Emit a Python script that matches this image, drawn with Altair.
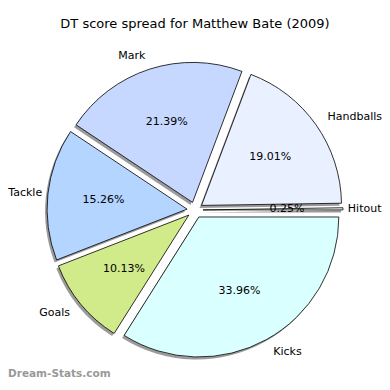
import altair as alt
import pandas as pd

# ---- data ----
labels = ["Hitout", "Handballs", "Mark", "Tackle", "Goals", "Kicks"]
values = [0.25, 19.01, 21.39, 15.26, 10.13, 33.96]
colors = ["#f4f4f4", "#e9f0ff", "#c6d8ff", "#b3d5ff", "#d1ea8a", "#daffff"]

df = pd.DataFrame({"idx": list(range(len(labels))), "label": labels, "value": values})

E = 0.057          # explode distance (in radius units)
R_PX = 140         # pie radius in pixels
W, H = 374, 346
CX_PX, CY_PX = 187, 174   # pie centre inside the view
X0, X1 = -CX_PX / R_PX, (W - CX_PX) / R_PX
Y0, Y1 = -(H - CY_PX) / R_PX, CY_PX / R_PX
FONT = "DejaVu Sans"
CHW = 5.7  # approx. label char width in px (for keeping labels inside)

base = alt.Chart(df).transform_window(
    cum="sum(value)", sort=[alt.SortField("idx")], frame=[None, 0]
).transform_joinaggregate(
    total="sum(value)"
).transform_calculate(
    a0="2*PI*(datum.cum - datum.value)/datum.total",
    a1="2*PI*datum.cum/datum.total",
).transform_calculate(
    mid="(datum.a0 + datum.a1)/2",
    th0="PI/2 - datum.a0",
    th1="PI/2 - datum.a1",
).transform_calculate(
    cx=f"{E}*cos(datum.mid)",
    cy=f"{E}*sin(datum.mid)",
    pcx=f"{E}*cos(datum.mid) + 0.6*cos(datum.mid)",
    pcy=f"{E}*sin(datum.mid) + 0.6*sin(datum.mid)",
    lx=f"{E}*cos(datum.mid) + 1.1*cos(datum.mid)",
    ly=f"{E}*sin(datum.mid) + 1.1*sin(datum.mid)",
    ptxt="format(datum.value, '.2f') + '%'",
).transform_calculate(
    # keep labels inside the drawing area
    lxl=f"max(datum.lx, {X0} + length(datum.label)*{CHW}/{R_PX})",
    lxr=f"min(datum.lx, {X1} - length(datum.label)*{CHW}/{R_PX})",
)

xs = alt.Scale(domain=[X0, X1], nice=False, zero=False)
ys = alt.Scale(domain=[Y0, Y1], nice=False, zero=False)

shadow = base.mark_arc(
    radius=R_PX, color="#7a7a7a", opacity=0.75, xOffset=-2, yOffset=2.5
).encode(
    x=alt.X("cx:Q", scale=xs, axis=None),
    y=alt.Y("cy:Q", scale=ys, axis=None),
    theta=alt.Theta("th0:Q", scale=None, stack=None),
    theta2="th1:Q",
)

slices = base.mark_arc(
    radius=R_PX, stroke="black", strokeWidth=0.8
).encode(
    x=alt.X("cx:Q", scale=xs, axis=None),
    y=alt.Y("cy:Q", scale=ys, axis=None),
    theta=alt.Theta("th0:Q", scale=None, stack=None),
    theta2="th1:Q",
    color=alt.Color("label:N", scale=alt.Scale(domain=labels, range=colors), legend=None),
)

pct = base.mark_text(font=FONT, fontSize=11, color="black").encode(
    x=alt.X("pcx:Q", scale=xs, axis=None),
    y=alt.Y("pcy:Q", scale=ys, axis=None),
    text="ptxt:N",
)

lab_right = base.transform_filter("cos(datum.mid) >= 0").mark_text(
    font=FONT, fontSize=11, color="black", align="left", baseline="middle"
).encode(
    x=alt.X("lxr:Q", scale=xs, axis=None),
    y=alt.Y("ly:Q", scale=ys, axis=None),
    text="label:N",
)

lab_left = base.transform_filter("cos(datum.mid) < 0").mark_text(
    font=FONT, fontSize=11, color="black", align="right", baseline="middle"
).encode(
    x=alt.X("lxl:Q", scale=xs, axis=None),
    y=alt.Y("ly:Q", scale=ys, axis=None),
    text="label:N",
)

watermark = alt.Chart(pd.DataFrame({"t": ["Dream-Stats.com"]})).mark_text(
    font=FONT, fontSize=10.5, fontWeight="bold", color="#999999", align="left", baseline="middle"
).encode(
    x=alt.value(0),
    y=alt.value(H - 8),
    text="t:N",
)

chart = alt.layer(shadow, slices, pct, lab_right, lab_left, watermark).properties(
    width=W,
    height=H,
    title=alt.TitleParams(
        "DT score spread for Matthew Bate (2009)",
        font=FONT, fontSize=13, fontWeight="normal", color="black", anchor="middle", offset=5,
    ),
    autosize=alt.AutoSizeParams(type="none"),
    padding={"left": 0, "right": 0, "top": 28, "bottom": 0},
).configure(background="white", view=alt.ViewConfig(strokeWidth=0))

chart.save("out.html", embed_options={"renderer": "svg", "actions": False})
